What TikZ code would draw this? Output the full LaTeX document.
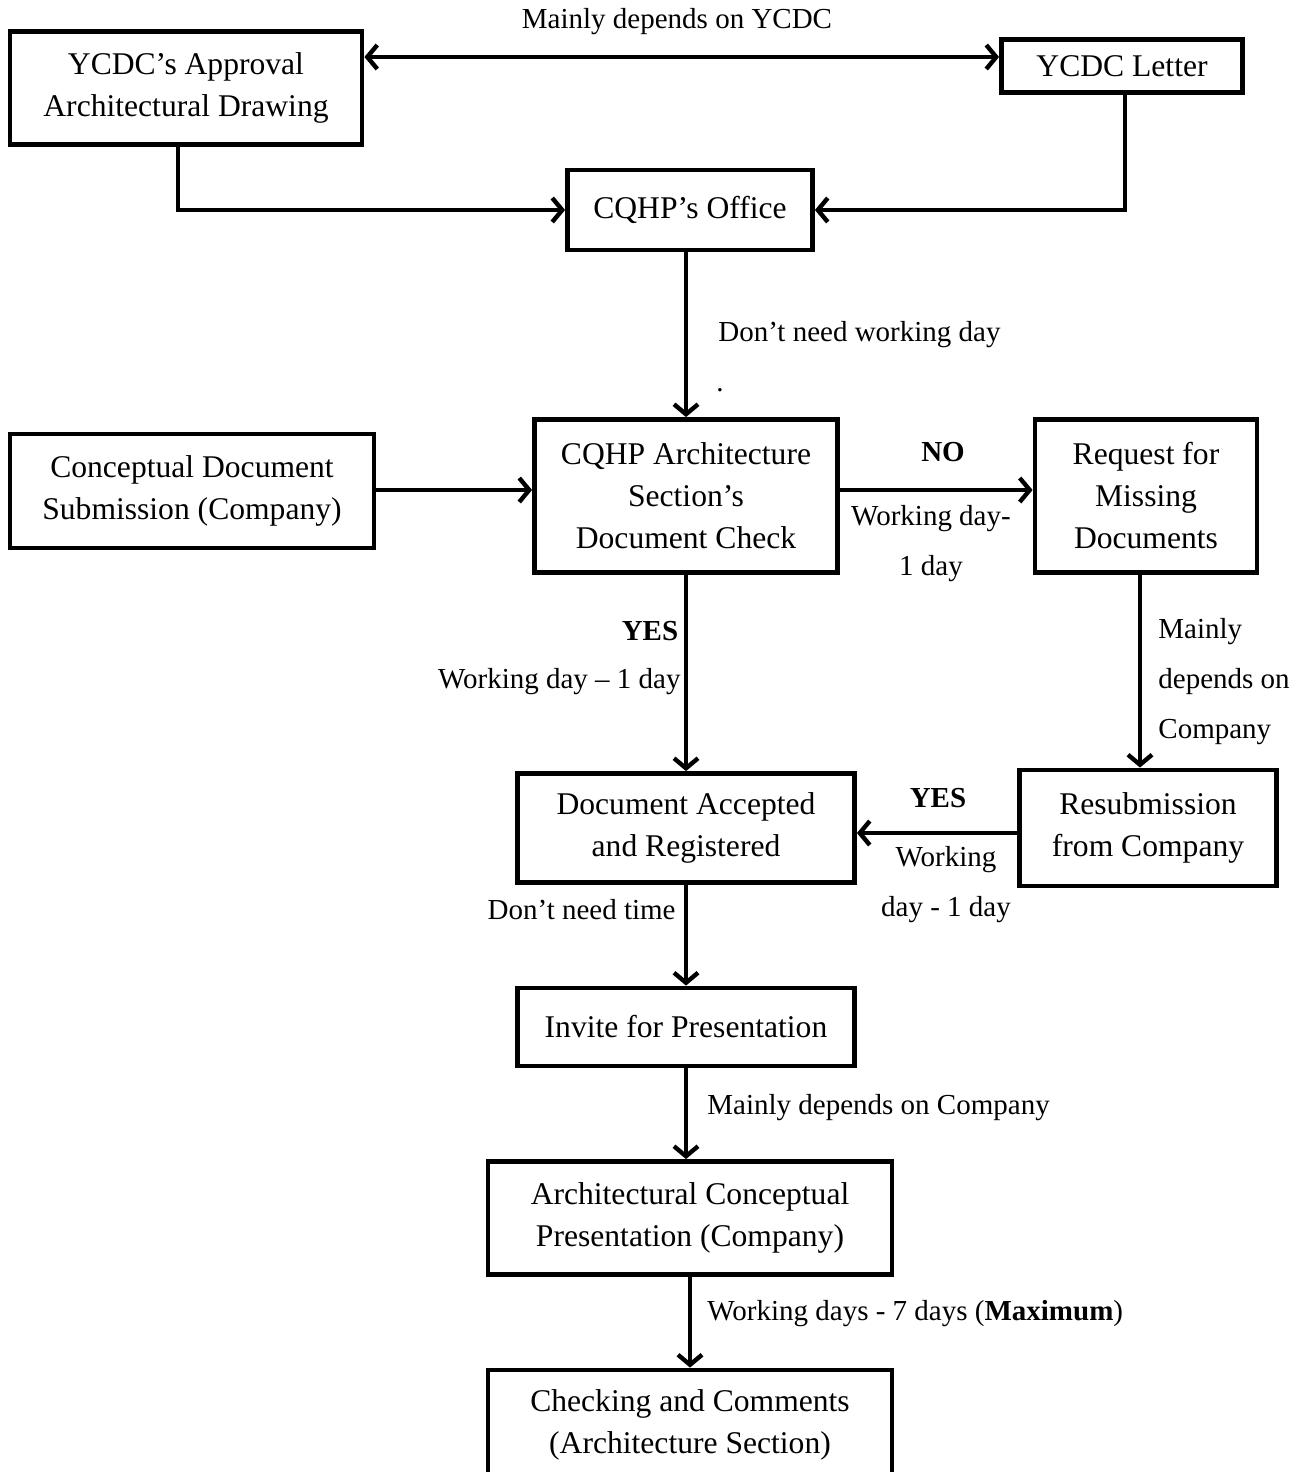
\documentclass[tikz,border=0pt]{standalone}
\usepackage{fontspec}
\setmainfont{Liberation Serif}
\usetikzlibrary{arrows.meta}

\begin{document}
\begin{tikzpicture}
	[x=0.5pt,y=-0.5pt,
	box/.style={draw,line width=2.4pt,rectangle,align=center,inner sep=0pt,
		font=\fontsize{15.8}{21}\selectfont},
	lbl/.style={align=center,inner sep=0pt,font=\fontsize{14.5}{25}\selectfont},
	arr/.style={line width=2.2pt,-{Straight Barb[length=5pt,width=12pt]}},
	arr2/.style={line width=2.2pt,{Straight Barb[length=5pt,width=12pt]}-{Straight Barb[length=5pt,width=12pt]}}]
		\useasboundingbox (0,0) rectangle (1312,1472);
		% boxes
		\node[box,minimum width=176pt,minimum height=56.5pt] (approval) at (186,88)
			{YCDC’s Approval\\Architectural Drawing};
		\node[box,minimum width=120.5pt,minimum height=26.5pt] (letter) at (1122,66)
			{YCDC Letter};
		\node[box,minimum width=122.5pt,minimum height=40pt] (office) at (690,210)
			{CQHP’s Office};
		\node[box,minimum width=182pt,minimum height=57pt] (concept) at (192,491)
			{Conceptual Document\\Submission (Company)};
		\node[box,minimum width=151.5pt,minimum height=76.5pt] (arch) at (686,496)
			{CQHP Architecture\\Section’s\\Document Check};
		\node[box,minimum width=111pt,minimum height=76.5pt] (request) at (1146,496)
			{Request for\\Missing\\Documents};
		\node[box,minimum width=168.5pt,minimum height=54.5pt] (accepted) at (686,828)
			{Document Accepted\\and Registered};
		\node[box,minimum width=128.5pt,minimum height=58pt] (resub) at (1148,828)
			{Resubmission\\from Company};
		\node[box,minimum width=168.5pt,minimum height=39pt] (invite) at (686,1027)
			{Invite for Presentation};
		\node[box,minimum width=202pt,minimum height=56.5pt] (present) at (690,1218)
			{Architectural Conceptual\\Presentation (Company)};
		\node[box,minimum width=202pt,minimum height=55pt] (checking) at (690,1425)
			{Checking and Comments\\(Architecture Section)};

		% labels
		\node[lbl] (l1) at (677,22) {Mainly depends on YCDC};
		\node[lbl,anchor=west] (l2) at (718,335) {Don’t need working day};
		\node[lbl,anchor=west] (l3) at (716,390) {.};
		\node[lbl,font=\fontsize{14.5}{25}\selectfont\bfseries] (l4) at (943,452) {NO};
		\node[lbl] (l5) at (931,544) {Working day-\\1 day};
		\node[lbl,font=\fontsize{14.5}{25}\selectfont\bfseries] (l6) at (650,631) {YES};
		\node[lbl,anchor=east] (l7) at (681,682) {Working day -- 1 day};
		\node[lbl,anchor=west,align=left] (l8) at (1158,682) {Mainly\\depends on\\Company};
		\node[lbl,font=\fontsize{14.5}{25}\selectfont\bfseries] (l9) at (938,798) {YES};
		\node[lbl] (l10) at (946,885) {Working\\day - 1 day};
		\node[lbl,anchor=east] (l11) at (676,910) {Don’t need time};
		\node[lbl,anchor=west] (l12) at (707,1108) {Mainly depends on Company};
		\node[lbl,anchor=west] (l13) at (707,1314) {Working days - 7 days (\textbf{Maximum})};

		% connectors
		\draw[arr2] (approval.east |- 0,57) -- (letter.west |- 0,57);
		\draw[arr] (approval.south -| 178,0) |- (office.west);
		\draw[arr] (letter.south -| 1125,0) |- (office.east);
		\draw[arr] (office.south -| arch.north) -- (arch.north);
		\draw[arr] (concept.east |- 0,490) -- (arch.west |- 0,490);
		\draw[arr] (arch.east |- 0,490) -- (request.west |- 0,490);
		\draw[arr] (arch.south) -- (accepted.north);
		\draw[arr] (request.south -| 1140,0) -- (resub.north -| 1140,0);
		\draw[arr] (resub.west |- 0,833) -- (accepted.east |- 0,833);
		\draw[arr] (accepted.south) -- (invite.north);
		\draw[arr] (invite.south) -- (invite.south |- present.north);
		\draw[arr] (present.south) -- (checking.north);
\end{tikzpicture}
\end{document}
